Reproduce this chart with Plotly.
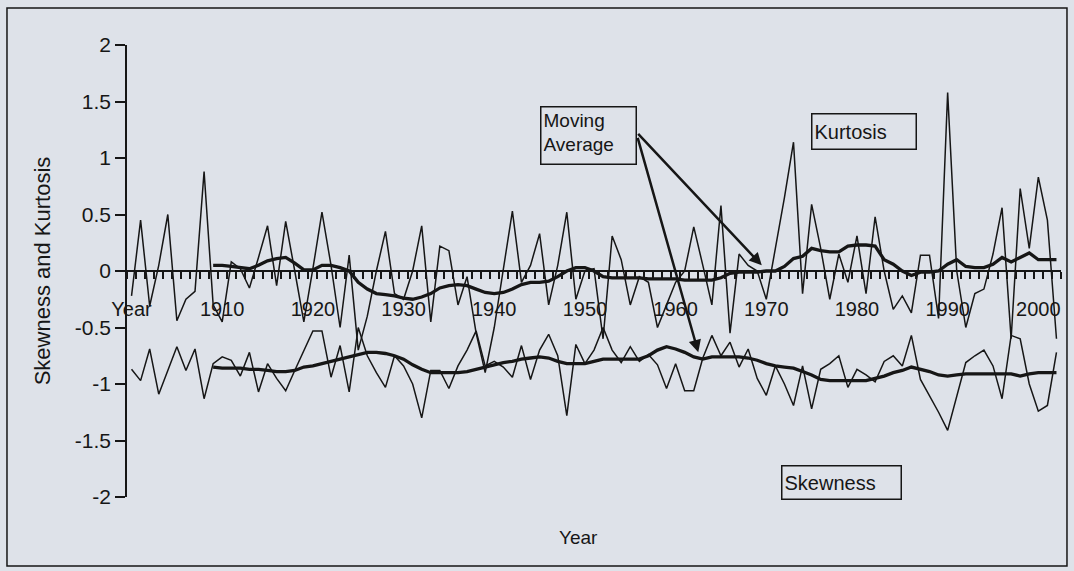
import plotly.graph_objects as go

# ---------------- data ----------------
years = list(range(1900, 2003))

kurtosis = [
    -0.22, 0.45, -0.31, 0.05, 0.50, -0.44, -0.25, -0.18, 0.88, -0.30,   # 1900-1909
    -0.45, 0.08, 0.02, -0.15, 0.12, 0.40, -0.13, 0.44, 0.00, -0.45,     # 1910-1919
    0.02, 0.52, 0.05, -0.50, 0.14, -0.70, -0.40, 0.00, 0.35, -0.20,     # 1920-1929
    -0.25, 0.00, 0.40, -0.45, 0.22, 0.18, -0.30, -0.05, -0.55, -0.90,   # 1930-1939
    -0.50, 0.00, 0.53, -0.10, 0.05, 0.33, -0.30, 0.05, 0.52, -0.25,     # 1940-1949
    0.00, 0.02, -0.60, 0.31, 0.10, -0.30, -0.05, -0.10, -0.50, -0.30,   # 1950-1959
    -0.10, 0.00, 0.39, 0.05, -0.30, 0.58, -0.55, 0.15, 0.05, 0.00,      # 1960-1969
    -0.25, 0.20, 0.65, 1.14, -0.20, 0.59, 0.20, -0.25, 0.15, -0.10,     # 1970-1979
    0.31, -0.20, 0.48, 0.00, -0.34, -0.22, -0.37, 0.14, 0.14, -0.42,    # 1980-1989
    1.58, 0.00, -0.50, -0.20, -0.16, 0.15, 0.56, -0.60, 0.73, 0.20,     # 1990-1999
    0.83, 0.45, -0.60,                                                  # 2000-2002
]

skewness = [
    -0.87, -0.97, -0.69, -1.09, -0.88, -0.67, -0.88, -0.69, -1.13, -0.82,  # 1900-1909
    -0.76, -0.79, -0.93, -0.72, -1.07, -0.82, -0.95, -1.06, -0.88, -0.70,  # 1910-1919
    -0.53, -0.53, -0.94, -0.66, -1.07, -0.50, -0.75, -0.90, -1.03, -0.75,  # 1920-1929
    -0.84, -1.00, -1.30, -0.88, -0.88, -1.04, -0.84, -0.70, -0.53, -0.84,  # 1930-1939
    -0.80, -0.85, -0.94, -0.66, -0.96, -0.70, -0.56, -0.75, -1.28, -0.65,  # 1940-1949
    -0.82, -0.70, -0.50, -0.70, -0.81, -0.67, -0.80, -0.74, -0.83, -1.04,  # 1950-1959
    -0.82, -1.06, -1.06, -0.77, -0.57, -0.75, -0.63, -0.85, -0.69, -0.95,  # 1960-1969
    -1.10, -0.84, -1.00, -1.19, -0.84, -1.22, -0.87, -0.82, -0.75, -1.03,  # 1970-1979
    -0.87, -0.92, -0.98, -0.80, -0.75, -0.84, -0.57, -0.96, -1.10, -1.25,  # 1980-1989
    -1.41, -1.10, -0.81, -0.75, -0.70, -0.84, -1.13, -0.57, -0.60, -1.00,  # 1990-1999
    -1.24, -1.19, -0.72,                                                   # 2000-2002
]

ma_years = list(range(1909, 2003))

kurtosis_ma = [
    0.05, 0.05, 0.04, 0.03, 0.02, 0.05, 0.09, 0.11, 0.12, 0.07,          # 1909-1918
    0.01, 0.01, 0.05, 0.05, 0.03, 0.00, -0.10, -0.16, -0.20, -0.21,      # 1919-1928
    -0.22, -0.24, -0.25, -0.23, -0.20, -0.15, -0.13, -0.12, -0.13, -0.16,  # 1929-1938
    -0.19, -0.20, -0.19, -0.16, -0.12, -0.10, -0.10, -0.09, -0.05, 0.00,   # 1939-1948
    0.03, 0.03, 0.00, -0.05, -0.06, -0.06, -0.06, -0.06, -0.07, -0.07,     # 1949-1958
    -0.07, -0.07, -0.08, -0.08, -0.08, -0.08, -0.06, -0.02, -0.01, -0.01,  # 1959-1968
    -0.01, 0.00, 0.00, 0.04, 0.11, 0.13, 0.20, 0.18, 0.17, 0.17,         # 1969-1978
    0.22, 0.23, 0.23, 0.22, 0.10, 0.06, 0.00, -0.04, -0.01, -0.01,       # 1979-1988
    0.00, 0.06, 0.10, 0.04, 0.03, 0.03, 0.06, 0.12, 0.08, 0.12,          # 1989-1998
    0.16, 0.10, 0.10, 0.10,                                              # 1999-2002
]

skewness_ma = [
    -0.85, -0.86, -0.86, -0.86, -0.87, -0.87, -0.88, -0.89, -0.89, -0.88,  # 1909-1918
    -0.85, -0.84, -0.82, -0.80, -0.78, -0.76, -0.74, -0.72, -0.72, -0.73,  # 1919-1928
    -0.75, -0.78, -0.83, -0.87, -0.90, -0.90, -0.90, -0.90, -0.89, -0.87,  # 1929-1938
    -0.85, -0.83, -0.81, -0.80, -0.78, -0.77, -0.76, -0.77, -0.80, -0.82,  # 1939-1948
    -0.82, -0.82, -0.80, -0.78, -0.78, -0.78, -0.78, -0.78, -0.75, -0.70,  # 1949-1958
    -0.67, -0.69, -0.72, -0.76, -0.78, -0.76, -0.76, -0.76, -0.76, -0.77,  # 1959-1968
    -0.79, -0.82, -0.84, -0.85, -0.86, -0.89, -0.92, -0.96, -0.97, -0.97,  # 1969-1978
    -0.97, -0.97, -0.97, -0.95, -0.93, -0.90, -0.88, -0.85, -0.87, -0.89,  # 1979-1988
    -0.92, -0.93, -0.92, -0.91, -0.91, -0.91, -0.91, -0.91, -0.91, -0.93,  # 1989-1998
    -0.91, -0.90, -0.90, -0.90,                                            # 1999-2002
]

x_tick_years = [1900, 1910, 1920, 1930, 1940, 1950, 1960, 1970, 1980, 1990, 2000]
x_tick_labels = ["Year", "1910", "1920", "1930", "1940", "1950", "1960",
                 "1970", "1980", "1990", "2000"]
y_tick_values = [-2, -1.5, -1, -0.5, 0, 0.5, 1, 1.5, 2]
y_tick_labels = ["-2", "-1.5", "-1", "-0.5", "0", "0.5", "1", "1.5", "2"]

# ---------------- style ----------------
INK = "#161616"
BG = "#dee2e9"
FONT = "Liberation Sans, Arial, sans-serif"

fig = go.Figure()
fig.add_trace(go.Scatter(x=years, y=kurtosis, mode="lines", name="Kurtosis",
                         line=dict(color=INK, width=1.5)))
fig.add_trace(go.Scatter(x=years, y=skewness, mode="lines", name="Skewness",
                         line=dict(color=INK, width=1.5)))
fig.add_trace(go.Scatter(x=ma_years, y=kurtosis_ma, mode="lines",
                         name="Kurtosis moving average",
                         line=dict(color=INK, width=3.3)))
fig.add_trace(go.Scatter(x=ma_years, y=skewness_ma, mode="lines",
                         name="Skewness moving average",
                         line=dict(color=INK, width=3.3)))

fig.update_layout(
    width=1074, height=571,
    margin=dict(l=127, r=13, t=45, b=74),
    paper_bgcolor=BG, plot_bgcolor=BG,
    font=dict(family=FONT, size=20, color=INK),
    showlegend=False,
    xaxis=dict(
        range=[1899.5, 2002.5],
        anchor="free", position=0.5, automargin=False,
        showline=True, linecolor=INK, linewidth=1.5,
        showgrid=False, zeroline=False,
        tickmode="array", tickvals=x_tick_years, ticktext=x_tick_labels,
        ticks="outside", ticklen=20, tickcolor="rgba(0,0,0,0)",
        tickfont=dict(size=20, color=INK, family=FONT),
        minor=dict(tickmode="linear", tick0=1899.5, dtick=1,
                   ticks="outside", ticklen=7, tickcolor=INK, tickwidth=1.5,
                   showgrid=False),
    ),
    yaxis=dict(
        range=[-2, 2], automargin=False,
        showline=True, linecolor=INK, linewidth=1.5,
        showgrid=False, zeroline=False,
        tickmode="array", tickvals=y_tick_values, ticktext=y_tick_labels,
        ticks="outside", ticklen=10, tickcolor=INK, tickwidth=1.5,
        tickfont=dict(size=21, color=INK, family=FONT),
        title=dict(text="Skewness and Kurtosis", standoff=18,
                   font=dict(size=22, color=INK, family=FONT)),
    ),
)

# outer frame of the chart
fig.add_shape(type="rect", xref="paper", yref="paper",
              x0=-0.1285, x1=1.0064, y0=-0.1527, y1=1.0819,
              line=dict(color=INK, width=1.5), layer="below")

# x axis title
fig.add_annotation(text="Year", xref="paper", yref="paper",
                   x=0.4829, y=-0.0907, xanchor="center", yanchor="middle",
                   showarrow=False,
                   font=dict(size=19, color=INK, family=FONT))

# text boxes
fig.add_annotation(text="Moving<br>Average", xref="paper", yref="paper",
                   x=0.4946, y=0.7987, xanchor="center", yanchor="middle",
                   showarrow=False,
                   align="left", valign="top", width=90, height=52,
                   bordercolor=INK, borderwidth=1.5, borderpad=2, bgcolor=BG,
                   font=dict(size=19, color=INK, family=FONT))
fig.add_annotation(text="Kurtosis", xref="paper", yref="paper",
                   x=0.7891, y=0.8086, xanchor="center", yanchor="middle",
                   showarrow=False,
                   align="left", valign="middle", width=99, height=30,
                   bordercolor=INK, borderwidth=1.5, borderpad=2, bgcolor=BG,
                   font=dict(size=20, color=INK, family=FONT))
fig.add_annotation(text="Skewness", xref="paper", yref="paper",
                   x=0.765, y=0.0321, xanchor="center", yanchor="middle",
                   showarrow=False,
                   align="left", valign="middle", width=114, height=28,
                   bordercolor=INK, borderwidth=1.5, borderpad=2, bgcolor=BG,
                   font=dict(size=20, color=INK, family=FONT))

# arrows from the "Moving Average" box to the moving-average curves
fig.add_annotation(text="", xref="x", yref="y", x=1969.5, y=0.05,
                   ax=-125, ay=-133, showarrow=True,
                   arrowhead=2, arrowsize=1, arrowwidth=2.5, arrowcolor=INK)
fig.add_annotation(text="", xref="x", yref="y", x=1962.5, y=-0.72,
                   ax=-61, ay=-216, showarrow=True,
                   arrowhead=2, arrowsize=1, arrowwidth=2.5, arrowcolor=INK)

fig.write_html(
    "out.html",
    config={"displayModeBar": False},
    post_script="document.body.style.margin='0';"
                "document.body.style.background='" + BG + "';",
)
